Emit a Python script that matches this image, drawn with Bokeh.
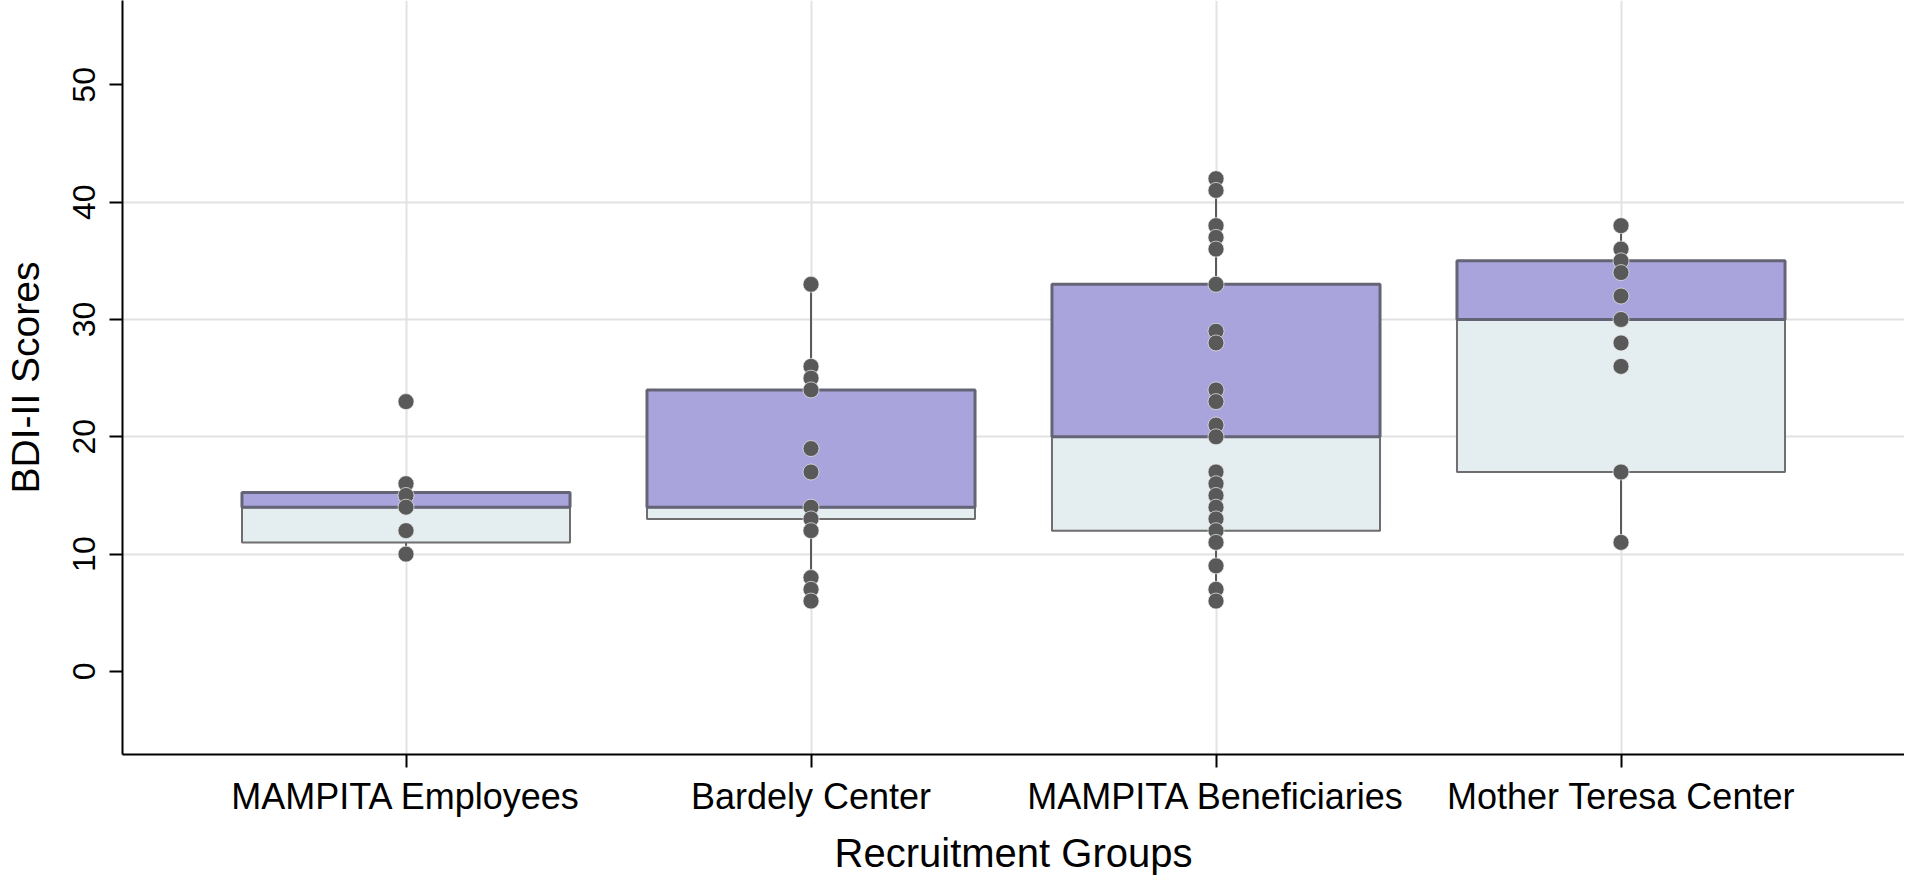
from bokeh.plotting import figure
from bokeh.models import FactorRange, Range1d, FixedTicker, ColumnDataSource, Title
from bokeh.embed import file_html
from bokeh.resources import INLINE

# ---- data ----
groups = ["MAMPITA Employees", "Bardely Center", "MAMPITA Beneficiaries", "Mother Teresa Center"]
q1 = [11, 13, 12, 17]
median = [14, 14, 20, 30]
q3 = [15.25, 24, 33, 35]
whisker_low = [10, 6, 6, 11]
whisker_high = [16, 33, 42, 38]

scores_employees = [23, 16, 15, 14, 12, 10]
scores_bardely = [33, 26, 25, 24, 19, 17, 14, 13, 12, 8, 7, 6]
scores_beneficiaries = [42, 41, 38, 37, 36, 33, 29, 28, 24, 23, 21, 20, 17, 16, 15, 14, 13, 12, 11, 9, 7, 6]
scores_teresa = [38, 36, 35, 34, 32, 30, 28, 26, 17, 11]

y_ticks = [0, 10, 20, 30, 40, 50]
y_grid = [10, 20, 30, 40]

FONT = "Liberation Sans"

p = figure(
    width=1904, height=884,
    x_range=FactorRange(factors=groups, range_padding=0.2, range_padding_units="absolute"),
    y_range=Range1d(-7.08, 57.19),
    output_backend="svg", toolbar_location=None,
    min_border_left=114, min_border_right=0, min_border_top=0, min_border_bottom=128,
)
p.outline_line_color = None
p.background_fill_color = "white"

box_src = ColumnDataSource(dict(g=groups, q1=q1, med=median, q3=q3, lo=whisker_low, hi=whisker_high))

# whiskers
p.segment(x0="g", y0="q3", x1="g", y1="hi", source=box_src, line_color="#5a5a5a", line_width=2)
p.segment(x0="g", y0="lo", x1="g", y1="q1", source=box_src, line_color="#5a5a5a", line_width=2)

# boxes: lower half and upper half
p.vbar(x="g", bottom="q1", top="med", width=0.81, source=box_src,
       fill_color="#E4EDEF", line_color="#6e6e6e", line_width=2)
p.vbar(x="g", bottom="med", top="q3", width=0.81, source=box_src,
       fill_color="#A9A4DC", line_color="#646476", line_width=3)

# points
all_scores = [scores_employees, scores_bardely, scores_beneficiaries, scores_teresa]
px, py = [], []
for g, vals in zip(groups, all_scores):
    px += [g] * len(vals)
    py += vals
p.scatter(x=px, y=py, size=16, fill_color="#595959", line_color="#eeeeee", line_width=0.7)

# axes
p.yaxis.ticker = FixedTicker(ticks=y_ticks)
p.yaxis.minor_tick_line_color = None
p.yaxis.major_label_orientation = "vertical"
p.yaxis.major_label_text_font = FONT
p.yaxis.major_label_text_font_size = "32px"
p.yaxis.major_label_text_color = "black"
p.yaxis.major_label_standoff = 14
p.yaxis.axis_label = "BDI-II Scores"
p.yaxis.axis_label_text_font = FONT
p.yaxis.axis_label_text_font_size = "39px"
p.yaxis.axis_label_text_font_style = "normal"
p.yaxis.axis_label_text_color = "black"
p.yaxis.axis_label_standoff = 24

p.xaxis.major_label_text_font = FONT
p.xaxis.major_label_text_font_size = "36px"
p.xaxis.major_label_text_color = "black"
p.xaxis.major_label_standoff = 8

xtitle = Title(text="Recruitment Groups", align="center", text_font=FONT,
               text_font_size="40px", text_font_style="normal", text_color="black",
               standoff=19, offset=0)
p.add_layout(xtitle, "below")

for ax in (p.xaxis, p.yaxis):
    ax.axis_line_color = "black"
    ax.axis_line_width = 2
    ax.major_tick_line_color = "black"
    ax.major_tick_line_width = 2
    ax.major_tick_out = 13
    ax.major_tick_in = 0

p.ygrid.ticker = FixedTicker(ticks=y_grid)
p.ygrid.grid_line_color = "#e2e2e2"
p.ygrid.grid_line_width = 2
p.xgrid.grid_line_color = "#e2e2e2"
p.xgrid.grid_line_width = 2

open("out.html", "w").write(file_html(p, INLINE))
